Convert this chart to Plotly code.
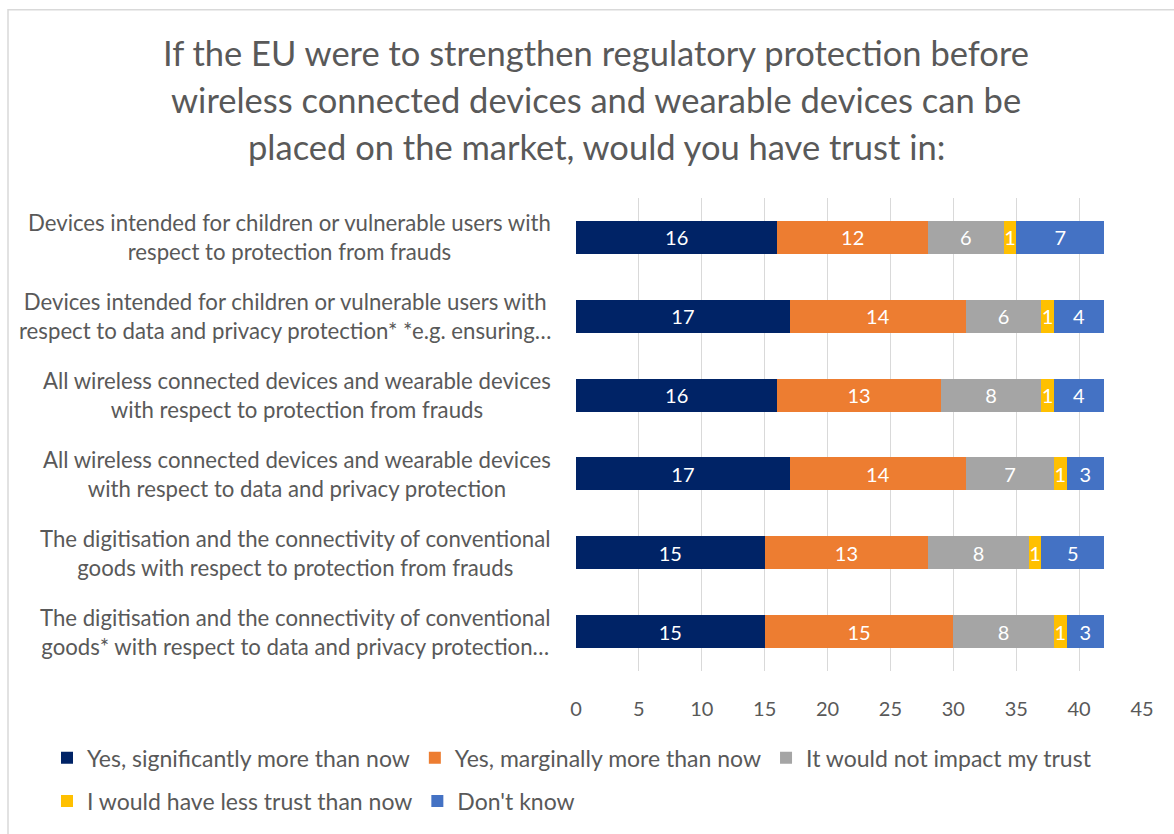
import plotly.graph_objects as go

# Survey categories (top to bottom)
categories = [
    "Devices intended for children or vulnerable users with<br>respect to protection from frauds",
    "Devices intended for children or vulnerable users with<br>respect to data and privacy protection* *e.g. ensuring…",
    "All wireless connected devices and wearable devices<br>with respect to protection from frauds",
    "All wireless connected devices and wearable devices<br>with respect to data and privacy protection",
    "The digitisation and the connectivity of conventional<br>goods with respect to protection from frauds",
    "The digitisation and the connectivity of conventional<br>goods* with respect to data and privacy protection…",
]

series_names = [
    "Yes, significantly more than now",
    "Yes, marginally more than now",
    "It would not impact my trust",
    "I would have less trust than now",
    "Don't know",
]

yes_significantly = [16, 17, 16, 17, 15, 15]
yes_marginally = [12, 14, 13, 14, 13, 15]
no_impact = [6, 6, 8, 7, 8, 8]
less_trust = [1, 1, 1, 1, 1, 1]
dont_know = [7, 4, 4, 3, 5, 3]

series_values = [yes_significantly, yes_marginally, no_impact, less_trust, dont_know]
colors = ["#002366", "#ED7D31", "#A5A5A5", "#FFC000", "#4472C4"]

title_lines = [
    "If the EU were to strengthen regulatory protection before",
    "wireless connected devices and wearable devices can be",
    "placed on the market, would you have trust in:",
]

x_ticks = [0, 5, 10, 15, 20, 25, 30, 35, 40, 45]

FONT = "Lato"
TEXT_GREY = "#595959"
W, H = 1174, 834
M_L, M_R, M_T, M_B = 576, 32, 198, 156
PLOT_W = W - M_L - M_R
PLOT_H = H - M_T - M_B


def px_x(px):
    return (px - M_L) / PLOT_W


def px_y(py):
    return 1 - (py - M_T) / PLOT_H


fig = go.Figure()
for i, (name, vals, col) in enumerate(zip(series_names, series_values, colors)):
    fig.add_trace(go.Bar(
        y=categories,
        x=vals,
        name=name,
        orientation="h",
        marker=dict(color=col, line=dict(width=0)),
        text=[str(v) for v in vals],
        textposition="inside",
        insidetextanchor="middle",
        textangle=0,
        constraintext="none",
        textfont=dict(family=FONT, size=20, color="white"),
        legend="legend" if i < 3 else "legend2",
        hoverinfo="x+name",
    ))

annotations = []
for k, line in enumerate(title_lines):
    annotations.append(dict(
        text=line, xref="paper", yref="paper",
        x=px_x(596), y=px_y(50 + 48 * k),
        xanchor="center", yanchor="middle", showarrow=False,
        font=dict(family=FONT, size=34.5, color=TEXT_GREY),
    ))

for cat in categories:
    annotations.append(dict(
        text=cat, xref="paper", yref="y",
        x=px_x(553), y=cat,
        xanchor="right", yanchor="middle", align="center",
        showarrow=False,
        font=dict(family=FONT, size=22.2, color=TEXT_GREY),
    ))

legend_style = dict(
    orientation="h", xref="paper", yref="paper",
    xanchor="left", yanchor="middle",
    font=dict(family=FONT, size=23, color=TEXT_GREY),
    itemwidth=30, traceorder="normal", bgcolor="rgba(0,0,0,0)",
)

fig.update_layout(
    width=W, height=H,
    margin=dict(l=M_L, r=M_R, t=M_T, b=M_B),
    barmode="stack",
    bargap=0.58,
    plot_bgcolor="white",
    paper_bgcolor="white",
    font=dict(family=FONT, color=TEXT_GREY),
    xaxis=dict(
        range=[0, 45], tickvals=x_ticks, showgrid=True, gridcolor="#D9D9D9",
        gridwidth=1, zeroline=False, showline=False, ticks="",
        tickfont=dict(family=FONT, size=20, color=TEXT_GREY),
        ticklabelstandoff=24,
    ),
    yaxis=dict(
        autorange="reversed", showticklabels=False, showgrid=False,
        zeroline=False, showline=False, ticks="",
    ),
    legend=dict(legend_style, x=px_x(47), y=px_y(766)),
    legend2=dict(legend_style, x=px_x(47), y=px_y(810)),
    annotations=annotations,
    shapes=[dict(
        type="rect", xref="paper", yref="paper",
        x0=px_x(8), x1=px_x(1200), y0=px_y(7), y1=px_y(860),
        line=dict(color="#D9D9D9", width=1.5), layer="below",
    )],
)

fig.write_html("out.html")
